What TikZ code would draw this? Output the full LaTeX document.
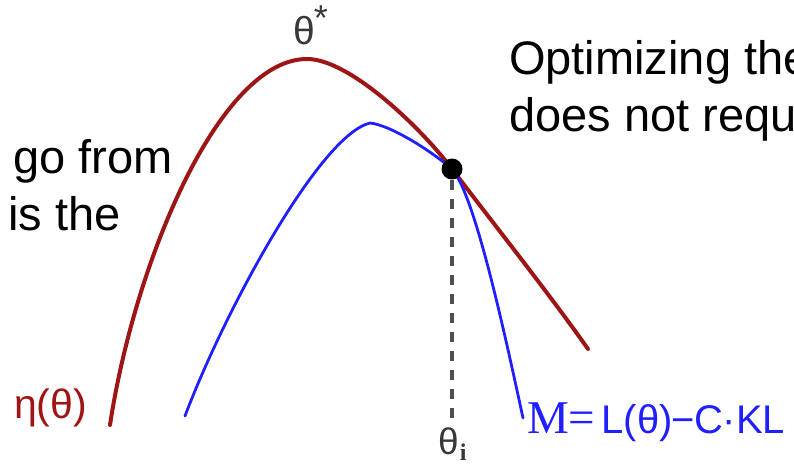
\documentclass[tikz,border=0pt]{standalone}
\usepackage{fontspec}
\setmainfont{Liberation Sans}
\newfontfamily\serifM{Liberation Serif}
\definecolor{etared}{HTML}{9E1515}
\definecolor{mblue}{HTML}{1F1FFF}
\definecolor{labgray}{HTML}{383838}
\definecolor{dashgray}{HTML}{505050}
\tikzset{
  bigtext/.style={anchor=base west, inner sep=0pt, font=\fontsize{47}{57}\selectfont, text=black},
  redcurve/.style={draw=etared, line width=4pt, line cap=round},
  bluecurve/.style={draw=mblue, line width=2.8pt, line cap=round},
  guide/.style={draw=dashgray, line width=3.5pt, dash pattern=on 10pt off 9pt},
}
\begin{document}
\begin{tikzpicture}[x=1pt,y=-1pt]
\useasboundingbox (0,0) rectangle (794,465);
\coordinate (P) at (452,169);
\coordinate (foot) at (452,418);
\coordinate (rstart) at (110,425);
\coordinate (rpeak) at (307,59);
\coordinate (rend) at (588,349);
\coordinate (bstart) at (185,416);
\coordinate (bpeak) at (370,123);
\coordinate (bend) at (523,418);
% red curve eta(theta)
\draw[redcurve] (rstart) .. controls (135,260) and (220,59) .. (rpeak)
  .. controls (350,59) and (422,129) .. (P)
  .. controls (500,232) and (550,295) .. (rend);
% blue curve M
\draw[bluecurve] (bstart) .. controls (225,310) and (320,135) .. (bpeak)
  .. controls (390,125) and (430,150) .. (P)
  .. controls (475,195) and (505,335) .. (bend);
% point and guide
\node[circle, fill=black, minimum size=21pt, inner sep=0pt] (pt) at (P) {};
\draw[guide] (pt.south) -- (foot);
% labels
\node[anchor=base west, inner sep=0pt, text=labgray, font=\fontsize{39}{39}\selectfont] (tstar) at (293,45) {θ\kern-1pt\raisebox{14pt}{\fontsize{36}{36}\selectfont *}};
\node[anchor=base west, inner sep=0pt, text=labgray, font=\fontsize{37}{37}\selectfont] (ti) at (438,454) {θ\kern1pt\raisebox{-6pt}{\fontsize{24}{24}\selectfont\serifM\bfseries i}};
\node[anchor=base west, inner sep=0pt, text=etared, font=\fontsize{41}{41}\selectfont] (eta) at (14,418) {η(θ)};
\node[anchor=base west, inner sep=0pt, text=mblue, font=\fontsize{40}{40}\selectfont] (mlab) at (527,433) {{\fontsize{47}{47}\selectfont\serifM M=}\kern6pt L(θ)\kern-1pt−\kern-1pt C·KL};
% text blocks
\node[bigtext] (l1) at (13,173) {go from};
\node[bigtext] (l2) at (8,230) {is the};
\node[bigtext] (r1) at (509,75) {Optimizing the};
\node[bigtext] (r2) at (509,132) {does not requ};
\end{tikzpicture}
\end{document}
